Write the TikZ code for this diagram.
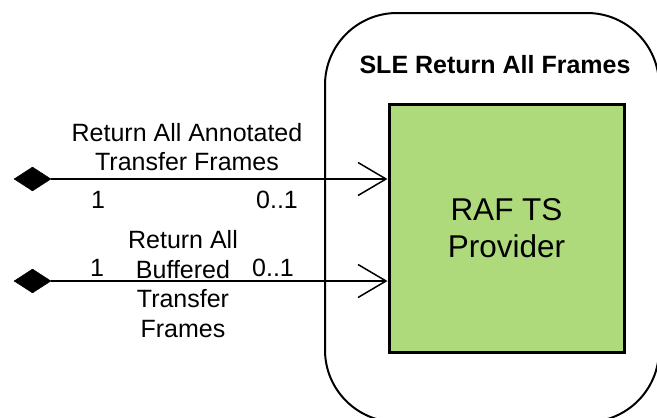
\documentclass[tikz,border=0pt]{standalone}
\usepackage{fontspec}
\setmainfont{Liberation Sans}
\usetikzlibrary{shapes.geometric,arrows.meta}
\begin{document}
\begin{tikzpicture}[x=1pt,y=-1pt,
  lbl/.style={font=\fontsize{25}{29.5}\selectfont, align=center, inner sep=0pt},
  comp/.style={draw, line width=3pt, fill={rgb,255:red,174;green,218;blue,123}, minimum width=235pt, minimum height=248pt, inner sep=0pt, align=center, font=\fontsize{31.5}{37}\selectfont},
  agg/.style={diamond, fill=black, draw=black, minimum width=37pt, minimum height=24pt, inner sep=0pt, aspect=1.54},
  conn/.style={line width=1.5pt, -{Straight Barb[length=28pt,width=33pt,line width=1.5pt]}}
]
\useasboundingbox (0,0) rectangle (657,418);
\fill[white] (0,0) rectangle (657,418);
% outer rounded boundary
\draw[line width=2pt, rounded corners=72pt] (325,13) rectangle (659,422);
\node[font=\fontsize{25}{28}\selectfont\bfseries, inner sep=0pt] (title) at (495,65) {SLE Return All Frames};
% component
\node[comp] (prov) at (506.5,228) {RAF TS\\Provider};
% aggregation diamonds
\node[agg] (d1) at (32.5,179) {};
\node[agg] (d2) at (32.5,281) {};
\draw[conn] (d1.east) -- (prov.west |- d1);
\draw[conn] (d2.east) -- (prov.west |- d2);
% labels
\node[lbl] (l1) at (187,147) {Return All Annotated\\Transfer Frames};
\node[lbl] (m1a) at (98,200) {1};
\node[lbl] (m1b) at (277,200) {0..1};
\node[lbl] (l2) at (183,284) {Return All\\Buffered\\Transfer\\Frames};
\node[lbl] (m2a) at (97,268) {1};
\node[lbl] (m2b) at (273,268) {0..1};
\end{tikzpicture}
\end{document}
